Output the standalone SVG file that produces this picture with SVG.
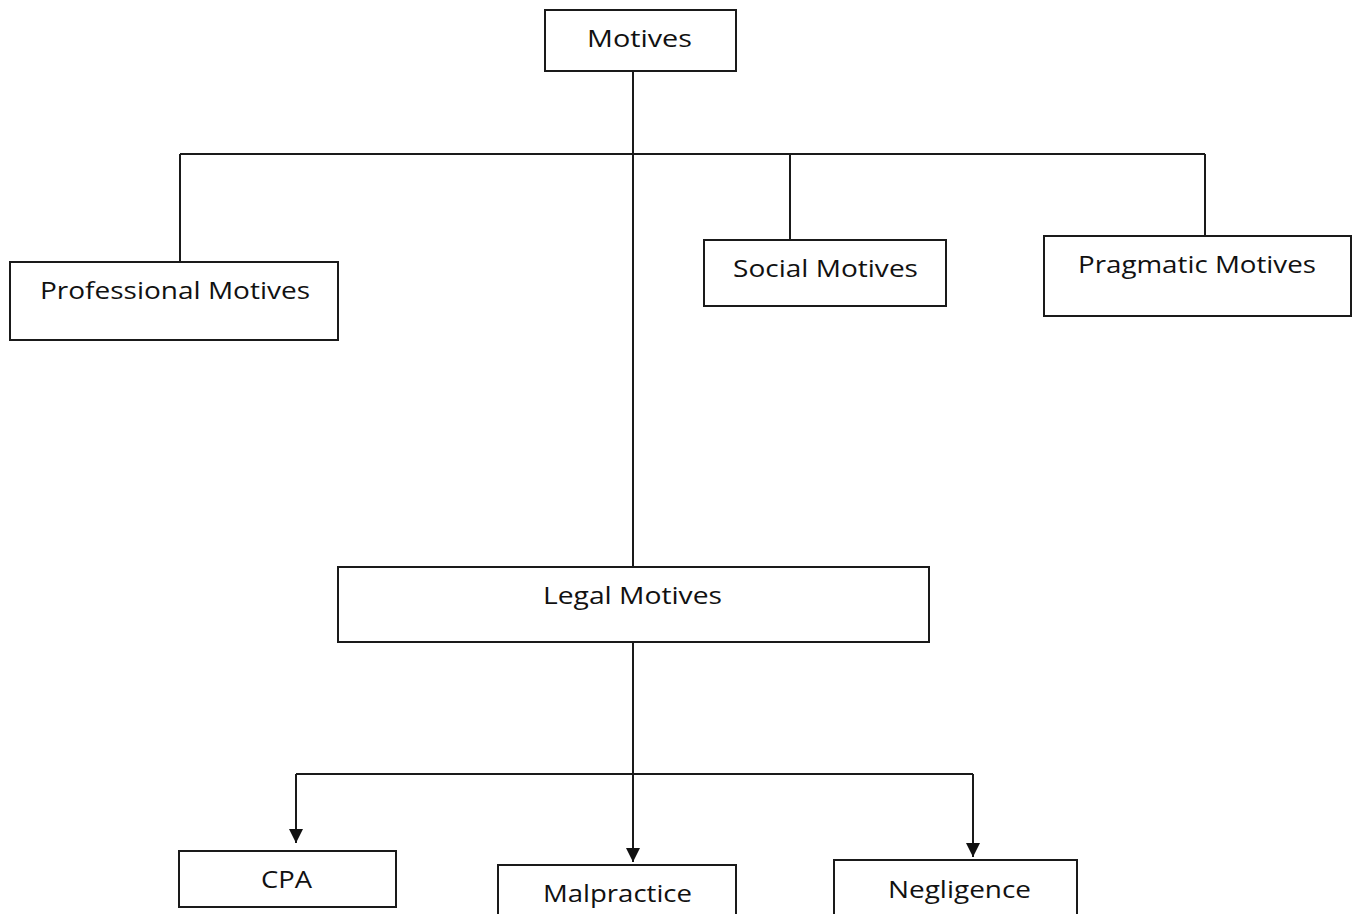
<svg xmlns="http://www.w3.org/2000/svg" width="1354" height="914" viewBox="0 0 1354 914">
<defs>
<style>
.box{fill:#fff;stroke:#1a1a1a;stroke-width:2}
.ln{fill:none;stroke:#1a1a1a;stroke-width:2}
.t{font-family:"Open Sans","DejaVu Sans",sans-serif;font-size:23px;fill:#111}
</style>
<marker id="arr" viewBox="0 0 10 10" refX="10" refY="5" markerWidth="14" markerHeight="14" markerUnits="userSpaceOnUse" orient="auto">
<path d="M0,0 L10,5 L0,10 z" fill="#111"/>
</marker>
</defs>
<rect width="1354" height="914" fill="#fff"/>
<g id="connectors">
<path class="ln" d="M633,71 V567"/>
<path class="ln" d="M180,154 H1205"/>
<path class="ln" d="M180,154 V262"/>
<path class="ln" d="M790,154 V240"/>
<path class="ln" d="M1205,154 V236"/>
<path class="ln" d="M633,642 V862" marker-end="url(#arr)"/>
<path class="ln" d="M296,774 H973"/>
<path class="ln" d="M296,774 V843" marker-end="url(#arr)"/>
<path class="ln" d="M973,774 V857" marker-end="url(#arr)"/>
</g>
<g id="motives">
<rect class="box" x="545" y="10" width="191" height="61"/>
<text class="t" x="587" y="47" textLength="105" lengthAdjust="spacingAndGlyphs">Motives</text>
</g>
<g id="professional">
<rect class="box" x="10" y="262" width="328" height="78"/>
<text class="t" x="40" y="299" textLength="270" lengthAdjust="spacingAndGlyphs">Professional Motives</text>
</g>
<g id="social">
<rect class="box" x="704" y="240" width="242" height="66"/>
<text class="t" x="733" y="277" textLength="185" lengthAdjust="spacingAndGlyphs">Social Motives</text>
</g>
<g id="pragmatic">
<rect class="box" x="1044" y="236" width="307" height="80"/>
<text class="t" x="1078" y="273" textLength="238" lengthAdjust="spacingAndGlyphs">Pragmatic Motives</text>
</g>
<g id="legal">
<rect class="box" x="338" y="567" width="591" height="75"/>
<text class="t" x="543" y="604" textLength="179" lengthAdjust="spacingAndGlyphs">Legal Motives</text>
</g>
<g id="cpa">
<rect class="box" x="179" y="851" width="217" height="56"/>
<text class="t" x="261" y="888" textLength="51" lengthAdjust="spacingAndGlyphs">CPA</text>
</g>
<g id="malpractice">
<rect class="box" x="498" y="865" width="238" height="60"/>
<text class="t" x="543" y="902" textLength="149" lengthAdjust="spacingAndGlyphs">Malpractice</text>
</g>
<g id="negligence">
<rect class="box" x="834" y="860" width="243" height="65"/>
<text class="t" x="888" y="898" textLength="143" lengthAdjust="spacingAndGlyphs">Negligence</text>
</g>
</svg>
